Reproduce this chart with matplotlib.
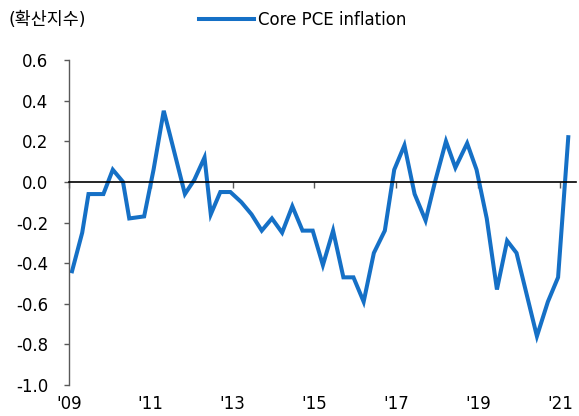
import pandas as pd
import matplotlib
matplotlib.use("Agg")
import matplotlib.pyplot as plt
import matplotlib.dates as mdates

plt.rcParams['font.family'] = ['DejaVu Sans', 'Noto Sans CJK KR']

# FOMC SEP release dates and diffusion index of core PCE inflation risks
sep_dates = [
    "2009-01-28", "2009-04-29", "2009-06-24", "2009-11-04",
    "2010-01-27", "2010-04-28", "2010-06-23", "2010-11-03",
    "2011-01-26", "2011-04-27", "2011-06-22", "2011-11-02",
    "2012-01-25", "2012-04-25", "2012-06-20", "2012-09-13", "2012-12-12",
    "2013-03-20", "2013-06-19", "2013-09-18", "2013-12-18",
    "2014-03-19", "2014-06-18", "2014-09-17", "2014-12-17",
    "2015-03-18", "2015-06-17", "2015-09-17", "2015-12-16",
    "2016-03-16", "2016-06-15", "2016-09-21", "2016-12-14",
    "2017-03-15", "2017-06-14", "2017-09-20", "2017-12-13",
    "2018-03-21", "2018-06-13", "2018-09-26", "2018-12-19",
    "2019-03-20", "2019-06-19", "2019-09-18", "2019-12-11",
    "2020-06-10", "2020-09-16", "2020-12-16",
    "2021-03-17",
]
core_pce = [
    -0.44, -0.25, -0.06, -0.06,
    0.06, 0.00, -0.18, -0.17,
    0.06, 0.35, 0.23, -0.06,
    0.01, 0.12, -0.16, -0.05, -0.05,
    -0.10, -0.16, -0.24, -0.18,
    -0.25, -0.12, -0.24, -0.24,
    -0.41, -0.24, -0.47, -0.47,
    -0.59, -0.35, -0.24, 0.06,
    0.18, -0.06, -0.19, 0.00,
    0.20, 0.07, 0.19, 0.06,
    -0.18, -0.53, -0.29, -0.35,
    -0.76, -0.59, -0.47,
    0.22,
]
tick_years = [2009, 2011, 2013, 2015, 2017, 2019, 2021]
tick_labels = ["'09", "'11", "'13", "'15", "'17", "'19", "'21"]

dates = pd.to_datetime(sep_dates)
ticks = [mdates.date2num(pd.Timestamp(f"{y}-01-01")) for y in tick_years]

fig = plt.figure(figsize=(5.79, 4.16), dpi=100)
ax = fig.add_axes([69 / 579, 31 / 416, 507 / 579, 325 / 416])

ax.plot(mdates.date2num(dates), core_pce, color='#1570C6', lw=2.9,
        solid_joinstyle='miter', label='Core PCE inflation')

ax.set_ylim(-1.0, 0.6)
ax.set_yticks([-1.0, -0.8, -0.6, -0.4, -0.2, 0.0, 0.2, 0.4, 0.6])
ax.set_yticklabels([f"{v:.1f}" for v in ax.get_yticks()])
ax.set_xlim(mdates.date2num(pd.Timestamp("2009-01-01")),
            mdates.date2num(pd.Timestamp("2021-05-25")))

for s in ['top', 'right']:
    ax.spines[s].set_visible(False)
ax.spines['left'].set_color('#595959')
ax.spines['left'].set_linewidth(1.0)
ax.spines['bottom'].set_position(('data', 0))
ax.spines['bottom'].set_color('black')
ax.spines['bottom'].set_linewidth(1.2)

ax.tick_params(axis='y', length=3.6, width=1, color='#595959',
               labelsize=12, pad=11.5, labelcolor='#000000')
ax.set_xticks(ticks)
ax.tick_params(axis='x', length=4, width=1, color='#595959', labelbottom=False)

sec = ax.secondary_xaxis('bottom')
sec.spines['bottom'].set_visible(False)
sec.set_xticks(ticks)
sec.set_xticklabels(tick_labels)
sec.tick_params(length=0, labelsize=12, pad=7)

fig.text(8 / 579, 1 - 20 / 416, "(확산지수)", fontsize=12.5, va='center', ha='left')
ax.legend(loc='center left', bbox_to_anchor=(199 / 579, 1 - 20 / 416),
          bbox_transform=fig.transFigure, frameon=False, borderpad=0,
          borderaxespad=0, handlelength=3.3, handletextpad=0.25, fontsize=12)

fig.savefig("out.png", dpi=100)
